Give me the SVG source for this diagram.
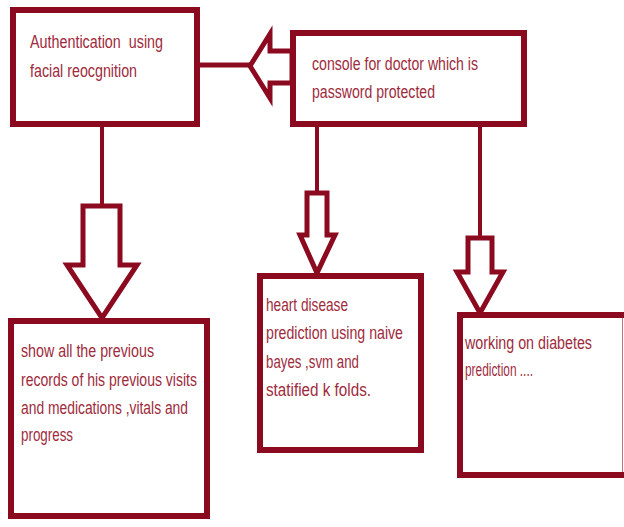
<svg xmlns="http://www.w3.org/2000/svg" width="624" height="527" viewBox="0 0 624 527">
<style>
.box{fill:#fff;stroke:#8b0a1f;stroke-width:6}
.arr{fill:#fff;stroke:#8b0a1f;stroke-width:5;stroke-linejoin:miter}
.ln{stroke:#8b0a1f;stroke-width:4;fill:none}
text{font-family:"Liberation Sans",Arial,sans-serif;font-size:17.5px;fill:#9e2b3c}
</style>
<rect width="624" height="527" fill="#fff"/>
<g id="connectors">
<line class="ln" x1="197" y1="65" x2="252" y2="65" style="stroke-width:5"/>
<polygon class="arr" points="292,51 270,51 270,34 250,66 270,98 270,83 292,83"/>
<line class="ln" x1="102" y1="124" x2="102" y2="206"/>
<polygon class="arr" points="83,206 120,206 120,265 137,265 102,318 67,265 83,265"/>
<line class="ln" x1="317" y1="124" x2="317" y2="193"/>
<polygon class="arr" points="307,193 327,193 327,235 335,235 317,273 300,235 307,235"/>
<line class="ln" x1="480" y1="124" x2="480" y2="238"/>
<polygon class="arr" points="468,238 492,238 492,272 503,272 480,313 457,272 468,272"/>
</g>
<g id="auth">
<rect class="box" x="13" y="10" width="184" height="114"/>
<text x="30" y="48" textLength="133" lengthAdjust="spacingAndGlyphs" xml:space="preserve">Authentication  using</text>
<text x="30" y="77" textLength="107" lengthAdjust="spacingAndGlyphs">facial reocgnition</text>
</g>
<g id="console">
<rect class="box" x="293" y="33" width="231" height="91"/>
<text x="312" y="70" textLength="166" lengthAdjust="spacingAndGlyphs">console for doctor which is</text>
<text x="312" y="98" textLength="123" lengthAdjust="spacingAndGlyphs">password protected</text>
</g>
<g id="records">
<rect class="box" x="11" y="321" width="196" height="195"/>
<text x="21" y="357" textLength="133" lengthAdjust="spacingAndGlyphs">show all the previous</text>
<text x="21" y="386" textLength="176" lengthAdjust="spacingAndGlyphs">records of his previous visits</text>
<text x="21" y="414" textLength="167" lengthAdjust="spacingAndGlyphs">and medications ,vitals and</text>
<text x="21" y="441" textLength="52" lengthAdjust="spacingAndGlyphs">progress</text>
</g>
<g id="heart">
<rect class="box" x="260" y="276" width="161" height="174"/>
<text x="266" y="311" textLength="82" lengthAdjust="spacingAndGlyphs">heart disease</text>
<text x="266" y="339" textLength="137" lengthAdjust="spacingAndGlyphs">prediction using naive</text>
<text x="266" y="368" textLength="93" lengthAdjust="spacingAndGlyphs">bayes ,svm and</text>
<text x="266" y="396" textLength="105" lengthAdjust="spacingAndGlyphs">statified k folds.</text>
</g>
<g id="diabetes">
<rect class="box" x="460" y="315" width="200" height="160"/>
<line x1="622.5" y1="318" x2="622.5" y2="472" stroke="#c9707c" stroke-width="1"/>
<text x="465" y="349" textLength="127" lengthAdjust="spacingAndGlyphs">working on diabetes</text>
<text x="465" y="376" textLength="68" lengthAdjust="spacingAndGlyphs">prediction ....</text>
</g>
</svg>
